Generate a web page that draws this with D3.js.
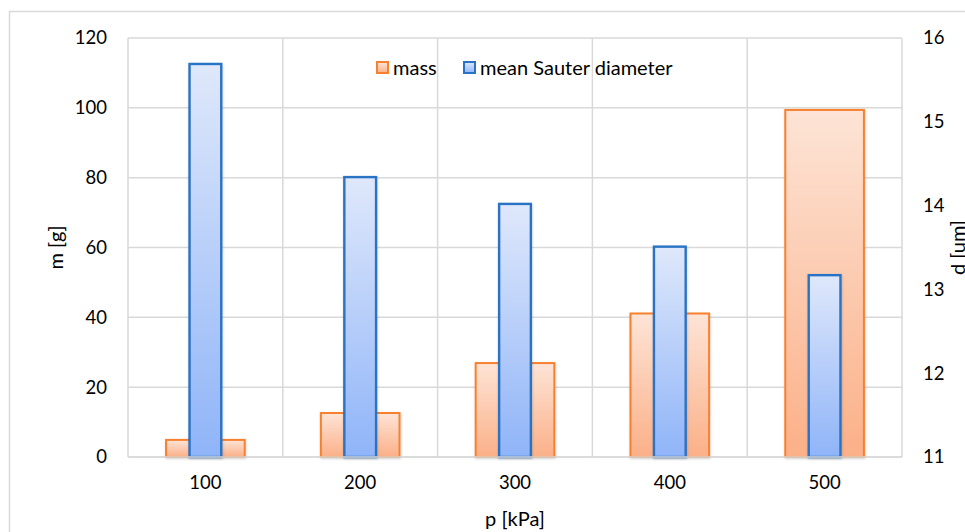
<!DOCTYPE html>
<html>
<head>
<meta charset="utf-8">
<script src="https://cdn.jsdelivr.net/npm/d3@7"></script>
<style>
  html, body { margin: 0; padding: 0; background: #fff; }
  svg { display: block; }
  text { font-family: Lato, "Open Sans", sans-serif; fill: #000; }
</style>
</head>
<body>
<svg id="chart" width="965" height="532"></svg>
<script>
const categories = ["100", "200", "300", "400", "500"];
const massValues = [4.9, 12.6, 26.9, 41.1, 99.4];
const diameterValues = [15.69, 14.34, 14.02, 13.51, 13.17];
const leftTicks = [0, 20, 40, 60, 80, 100, 120];
const rightTicks = [11, 12, 13, 14, 15, 16];
const seriesNames = ["mass", "mean Sauter diameter"];
const axisTitles = { x: "p [kPa]", left: "m [g]", right: "d [um]" };

const W = 965, H = 532;
const plot = { left: 128, right: 902, top: 38, bottom: 457 };
const svg = d3.select("#chart");
const defs = svg.append("defs");

const gM = defs.append("linearGradient").attr("id", "gMass").attr("x1", 0).attr("y1", 0).attr("x2", 0).attr("y2", 1);
gM.append("stop").attr("offset", "0%").attr("stop-color", "#fde4d6");
gM.append("stop").attr("offset", "100%").attr("stop-color", "#fbb088");
const gD = defs.append("linearGradient").attr("id", "gDia").attr("x1", 0).attr("y1", 0).attr("x2", 0).attr("y2", 1);
gD.append("stop").attr("offset", "0%").attr("stop-color", "#dfe8fb");
gD.append("stop").attr("offset", "100%").attr("stop-color", "#8fb4f8");
const sh = defs.append("filter").attr("id", "shadow").attr("x", "-20%").attr("y", "-20%").attr("width", "140%").attr("height", "140%");
sh.append("feDropShadow").attr("dx", 0.5).attr("dy", 1).attr("stdDeviation", 1.2).attr("flood-color", "#000").attr("flood-opacity", 0.18);

// outer chart border
svg.append("rect").attr("x", 9.5).attr("y", 11.5).attr("width", W).attr("height", H)
  .attr("fill", "none").attr("stroke", "#d9d9d9").attr("stroke-width", 1.5);

const x = d3.scaleBand().domain(categories).range([plot.left, plot.right]).padding(0);
const yL = d3.scaleLinear().domain([0, 120]).range([plot.bottom, plot.top]);
const yR = d3.scaleLinear().domain([11, 16]).range([plot.bottom, plot.top]);

// gridlines
const grid = svg.append("g").attr("stroke", "#d9d9d9").attr("stroke-width", 1.5);
grid.selectAll("line.h").data(leftTicks).join("line")
  .attr("x1", plot.left).attr("x2", plot.right)
  .attr("y1", d => yL(d)).attr("y2", d => yL(d));
const vlines = categories.map(c => x(c)).concat([plot.right]);
grid.selectAll("line.v").data(vlines).join("line")
  .attr("x1", d => d).attr("x2", d => d)
  .attr("y1", plot.top).attr("y2", plot.bottom);

// mass bars
const mw = x.bandwidth() * 0.508;
svg.append("g").selectAll("rect").data(massValues).join("rect")
  .attr("x", (d, i) => x(categories[i]) + x.bandwidth() / 2 - mw / 2)
  .attr("y", d => yL(d))
  .attr("width", mw)
  .attr("height", d => yL(0) - yL(d))
  .attr("fill", "url(#gMass)")
  .attr("stroke", "#f7812f").attr("stroke-width", 2)
  .attr("filter", "url(#shadow)");

// diameter bars
const dw = x.bandwidth() * 0.205;
svg.append("g").selectAll("rect").data(diameterValues).join("rect")
  .attr("x", (d, i) => x(categories[i]) + x.bandwidth() / 2 - dw / 2)
  .attr("y", d => yR(d))
  .attr("width", dw)
  .attr("height", d => yR(11) - yR(d))
  .attr("fill", "url(#gDia)")
  .attr("stroke", "#2a72c4").attr("stroke-width", 2.4)
  .attr("filter", "url(#shadow)");

const fs = 18.5;
const fsT = 20;
// left axis
const axL = d3.axisLeft(yL).tickValues(leftTicks).tickFormat(d3.format("d")).tickSize(0).tickPadding(21);
const gL = svg.append("g").attr("transform", `translate(${plot.left},0)`).call(axL);
gL.select(".domain").remove();
gL.selectAll("text").attr("font-size", fs).attr("font-family", "Lato, sans-serif").attr("fill", "#000");

// right axis
const axR = d3.axisRight(yR).tickValues(rightTicks).tickFormat(d3.format("d")).tickSize(0).tickPadding(21);
const gR = svg.append("g").attr("transform", `translate(${plot.right},0)`).call(axR);
gR.select(".domain").remove();
gR.selectAll("text").attr("font-size", fs).attr("font-family", "Lato, sans-serif").attr("fill", "#000");

// bottom axis
const axB = d3.axisBottom(x).tickSize(0).tickPadding(19);
const gB = svg.append("g").attr("transform", `translate(0,${plot.bottom})`).call(axB);
gB.select(".domain").remove();
gB.selectAll("text").attr("font-size", fs).attr("font-family", "Lato, sans-serif").attr("fill", "#000");
svg.append("line").attr("x1", plot.left).attr("x2", plot.right)
  .attr("y1", plot.bottom).attr("y2", plot.bottom)
  .attr("stroke", "#d9d9d9").attr("stroke-width", 1.5);

// axis titles
svg.append("text").attr("x", (plot.left + plot.right) / 2).attr("y", 526)
  .attr("text-anchor", "middle").attr("font-size", fsT).text(axisTitles.x);
svg.append("text").attr("transform", `translate(63,${(plot.top + plot.bottom) / 2}) rotate(-90)`)
  .attr("text-anchor", "middle").attr("font-size", fsT).text(axisTitles.left);
svg.append("text").attr("transform", `translate(965,${(plot.top + plot.bottom) / 2}) rotate(-90)`)
  .attr("text-anchor", "middle").attr("font-size", fsT).text(axisTitles.right);

// legend
const leg = svg.append("g");
const legendItems = [
  { name: seriesNames[0], x: 376, fill: "url(#gMass)", stroke: "#f7812f" },
  { name: seriesNames[1], x: 463, fill: "url(#gDia)", stroke: "#2a72c4" }
];
legendItems.forEach(it => {
  leg.append("rect").attr("x", it.x + 1).attr("y", 62).attr("width", 11).attr("height", 11)
    .attr("fill", it.fill).attr("stroke", it.stroke).attr("stroke-width", 2);
  leg.append("text").attr("x", it.x + 17).attr("y", 75).attr("font-size", fsT).text(it.name);
});
</script>
</body>
</html>
